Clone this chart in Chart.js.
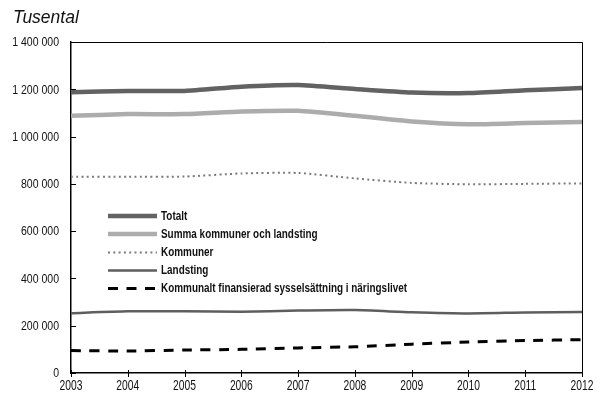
<!DOCTYPE html>
<html>
<head>
<meta charset="utf-8">
<style>
  html, body { margin: 0; padding: 0; background: #fff; }
  #wrap { width: 597px; height: 400px; position: relative; }
</style>
<script src="https://cdn.jsdelivr.net/npm/chart.js@4/dist/chart.umd.min.js"></script>
</head>
<body>
<div id="wrap"><canvas id="c" width="597" height="400"></canvas></div>
<script>
// Sysselsatta i kommuner och landsting, tusental (antal personer)
const years = ['2003', '2004', '2005', '2006', '2007', '2008', '2009', '2010', '2011', '2012'];
const totalt = [1187000, 1193000, 1193000, 1211000, 1218000, 1201000, 1186000, 1184000, 1196000, 1205000];
const summaKommunerLandsting = [1088000, 1095000, 1095000, 1106000, 1109000, 1088000, 1064000, 1052000, 1057000, 1062000];
const kommuner = [830000, 830000, 831000, 844000, 846000, 823000, 804000, 798000, 800000, 802000];
const landsting = [253000, 261000, 261000, 259000, 264000, 266000, 257000, 252000, 256000, 258000];
const naringsliv = [95000, 93000, 97000, 100000, 106000, 111000, 122000, 131000, 137000, 141000];
const yTicks = [0, 200000, 400000, 600000, 800000, 1000000, 1200000, 1400000];
const seriesNames = ['Totalt', 'Summa kommuner och landsting', 'Kommuner', 'Landsting',
  'Kommunalt finansierad sysselsättning i näringslivet'];
const unitTitle = 'Tusental';

const SANS = '"Liberation Sans", Arial, sans-serif';

function spaced(v) {
  return String(Math.round(v)).replace(/\B(?=(\d{3})+(?!\d))/g, ' ');
}

function line(label, data, color, width, dash) {
  return {
    label, data,
    borderColor: color,
    backgroundColor: color,
    borderWidth: width,
    borderDash: dash || [],
    borderCapStyle: 'butt',
    pointRadius: 0,
    tension: 0.2,
    fill: false
  };
}

// condensed text: the glyphs are squeezed horizontally around the anchor
function narrowText(ctx, text, x, y, align, k) {
  ctx.save();
  ctx.translate(x, y);
  ctx.scale(k, 1);
  ctx.textAlign = align;
  ctx.fillText(text, 0, 0);
  ctx.restore();
}

// Title, frame, tick marks, tick labels and the legend inside the plot
const decorations = {
  id: 'decorations',
  afterDraw(chart) {
    const { ctx, chartArea: a, scales } = chart;
    ctx.save();

    // unit title
    ctx.fillStyle = '#111';
    ctx.font = 'italic 17.5px ' + SANS;
    ctx.textBaseline = 'alphabetic';
    ctx.textAlign = 'left';
    ctx.fillText(unitTitle, 13, 23);

    // top and right frame
    ctx.strokeStyle = '#000';
    ctx.lineWidth = 1;
    ctx.beginPath();
    ctx.moveTo(a.left, a.top + 0.5);
    ctx.lineTo(a.right + 0.5, a.top + 0.5);
    ctx.lineTo(a.right + 0.5, a.bottom);
    ctx.stroke();

    // y ticks pointing into the plot, with labels
    ctx.fillStyle = '#111';
    ctx.font = '13.5px ' + SANS;
    ctx.textBaseline = 'middle';
    yTicks.forEach(v => {
      const yp = scales.y.getPixelForValue(v);
      const y = Math.round(yp) + 0.5;
      ctx.beginPath();
      ctx.moveTo(a.left, y);
      ctx.lineTo(a.left + 5, y);
      ctx.stroke();
      narrowText(ctx, spaced(v), 59, yp + 0.5, 'right', 0.78);
    });
    // x ticks crossing the axis, with labels
    ctx.font = '14.5px ' + SANS;
    ctx.textBaseline = 'top';
    years.forEach((lab, i) => {
      const xp = scales.x.getPixelForValue(i);
      const x = Math.round(xp) + 0.5;
      ctx.beginPath();
      ctx.moveTo(x, a.bottom - 3);
      ctx.lineTo(x, a.bottom + 4);
      ctx.stroke();
      narrowText(ctx, lab, xp, a.bottom + 6, 'center', 0.71);
    });

    // legend
    const lx0 = 108, lx1 = 157, tx = 161;
    const rowY = [216, 234, 252.5, 270.5, 288.5];
    ctx.font = 'bold 12.5px ' + SANS;
    ctx.textBaseline = 'middle';
    const longest = Math.max(...chart.data.datasets.map(d => ctx.measureText(d.label).width));
    const k = 246 / longest;
    chart.data.datasets.forEach((ds, i) => {
      const y = rowY[i];
      ctx.save();
      ctx.strokeStyle = ds.borderColor;
      ctx.lineWidth = ds.borderWidth;
      ctx.setLineDash(ds.borderDash || []);
      ctx.lineCap = 'butt';
      ctx.beginPath();
      ctx.moveTo(lx0, y);
      ctx.lineTo(lx1, y);
      ctx.stroke();
      ctx.restore();
      ctx.fillStyle = '#111';
      narrowText(ctx, ds.label, tx, y + 0.5, 'left', k);
    });
    ctx.restore();
  }
};

const datasets = [
  line(seriesNames[0], totalt, '#626262', 4.5),
  line(seriesNames[1], summaKommunerLandsting, '#acacac', 4.5),
  line(seriesNames[2], kommuner, '#7a7a7a', 2, [2, 3.3]),
  line(seriesNames[3], landsting, '#5e5e5e', 2.5),
  line(seriesNames[4], naringsliv, '#000000', 3, [10, 8.5])
];

new Chart(document.getElementById('c'), {
  type: 'line',
  data: { labels: years, datasets },
  options: {
    responsive: false,
    animation: false,
    events: [],
    layout: { padding: { top: 42, right: 15, bottom: 0, left: 0 } },
    plugins: {
      legend: { display: false },
      tooltip: { enabled: false },
      title: { display: false }
    },
    scales: {
      x: {
        type: 'category',
        offset: false,
        grid: { display: false, drawTicks: false },
        border: { display: true, color: '#000', width: 1.5 },
        ticks: { display: false },
        afterFit(scale) { scale.height = 27; }
      },
      y: {
        min: 0,
        max: 1400000,
        afterBuildTicks(scale) { scale.ticks = yTicks.map(v => ({ value: v })); },
        grid: { display: false, drawTicks: false },
        border: { display: true, color: '#000', width: 1.5 },
        ticks: { display: false },
        afterFit(scale) { scale.width = 71; }
      }
    }
  },
  plugins: [decorations]
});
</script>
</body>
</html>
